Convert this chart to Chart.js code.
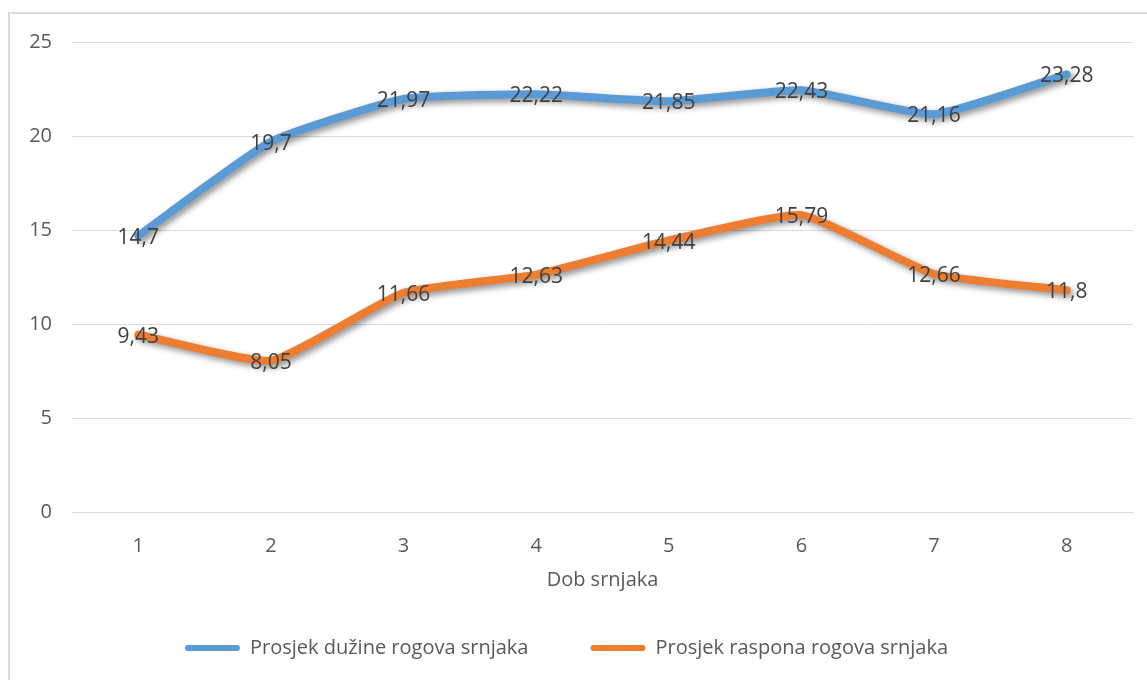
<!DOCTYPE html>
<html>
<head>
<meta charset="utf-8">
<script src="https://cdn.jsdelivr.net/npm/chart.js@4/dist/chart.umd.min.js"></script>
<style>
  body { margin: 0; background: #fff; overflow: hidden; }
  .frame { position: absolute; left: 8px; top: 12px; width: 1160px; height: 700px; border: 2px solid #d9d9d9; }
  #lineChart { position: absolute; left: 0; top: 0; }
</style>
</head>
<body>
<div class="frame"></div>
<canvas id="lineChart" width="1147" height="680"></canvas>
<script>
// =============================
// DATA
// =============================
const categories = ['1','2','3','4','5','6','7','8'];
const duzina = [14.7, 19.7, 21.97, 22.22, 21.85, 22.43, 21.16, 23.28];
const raspon = [9.43, 8.05, 11.66, 12.63, 14.44, 15.79, 12.66, 11.8];
const seriesNames = ['Prosjek dužine rogova srnjaka', 'Prosjek raspona rogova srnjaka'];
const xTitle = 'Dob srnjaka';

const FONT = "'Open Sans', sans-serif";

// shadow under the lines
const shadowPlugin = {
    id: 'shadow',
    beforeDatasetDraw(chart) {
        const c = chart.ctx;
        c.save();
        c.shadowColor = 'rgba(0,0,0,0.45)';
        c.shadowBlur = 6;
        c.shadowOffsetX = 3;
        c.shadowOffsetY = 3;
    },
    afterDatasetDraw(chart) {
        chart.ctx.restore();
    }
};

// value labels centred on each point
const valueLabels = {
    id: 'valueLabels',
    afterDatasetsDraw(chart) {
        const c = chart.ctx;
        c.save();
        c.font = '21px ' + FONT;
        c.fillStyle = '#404040';
        c.textAlign = 'center';
        c.textBaseline = 'middle';
        chart.data.datasets.forEach((ds, i) => {
            chart.getDatasetMeta(i).data.forEach((pt, j) => {
                c.fillText(String(ds.data[j]).replace('.', ','), pt.x, pt.y + 2);
            });
        });
        c.restore();
    }
};

// legend: wide gap between items but a fixed block height
const legendHeight = {
    id: 'legendHeight',
    beforeLayout(chart) {
        const lg = chart.legend;
        if (lg && !lg._fixed) {
            const fit = lg.fit.bind(lg);
            lg.fit = function () { fit(); this.height = 104; };
            lg._fixed = true;
        }
    }
};

new Chart(document.getElementById('lineChart'), {
    type: 'line',
    data: {
        labels: categories,
        datasets: [
            { label: seriesNames[0], data: duzina, borderColor: '#5b9bd5', backgroundColor: '#5b9bd5' },
            { label: seriesNames[1], data: raspon, borderColor: '#ed7d31', backgroundColor: '#ed7d31' }
        ]
    },
    options: {
        responsive: false,
        animation: false,
        devicePixelRatio: 1,
        layout: { padding: { left: 0, right: 14, top: 42, bottom: 0 } },
        elements: {
            line: { borderWidth: 8, tension: 0.15, borderCapStyle: 'round', borderJoinStyle: 'round' },
            point: { radius: 0, hoverRadius: 0 }
        },
        scales: {
            x: {
                offset: true,
                grid: { display: false },
                border: { display: false },
                ticks: { color: '#595959', font: { size: 20, family: FONT }, padding: 14 },
                title: { display: true, text: xTitle, color: '#595959', font: { size: 20, family: FONT }, padding: { top: 0, bottom: -16 } },
                afterFit(scale) { scale.height = 64; }
            },
            y: {
                min: 0, max: 25,
                ticks: { stepSize: 5, color: '#595959', font: { size: 20, family: FONT }, padding: 20 },
                grid: { color: '#d9d9d9', lineWidth: 1, drawTicks: false },
                border: { display: false },
                afterFit(scale) { scale.width = 72; }
            }
        },
        plugins: {
            legend: {
                position: 'bottom',
                labels: {
                    color: '#595959',
                    font: { size: 20, family: FONT },
                    boxWidth: 55, boxHeight: 6,
                    useBorderRadius: true, borderRadius: 3,
                    padding: 62,
                    generateLabels(chart) {
                        const items = Chart.defaults.plugins.legend.labels.generateLabels(chart);
                        items.forEach(it => { it.lineWidth = 0; });
                        return items;
                    }
                }
            },
            tooltip: { enabled: false }
        }
    },
    plugins: [shadowPlugin, valueLabels, legendHeight]
});
</script>
</body>
</html>
